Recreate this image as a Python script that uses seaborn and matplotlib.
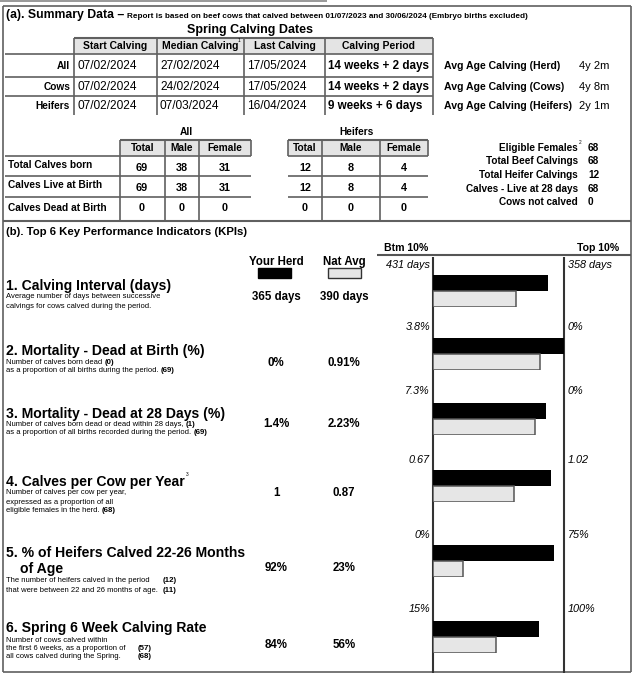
import pandas as pd
import matplotlib.pyplot as plt
import seaborn as sns
from matplotlib.patches import Rectangle


# ---- (a) summary data ----
calving_rows = ['All', 'Cows', 'Heifers']
calving_headers = ['Start Calving', 'Median Calving', 'Last Calving', 'Calving Period']
start_dates = ['07/02/2024', '07/02/2024', '07/02/2024']
median_dates = ['27/02/2024', '24/02/2024', '07/03/2024']
last_dates = ['17/05/2024', '17/05/2024', '16/04/2024']
calving_periods = ['14 weeks + 2 days', '14 weeks + 2 days', '9 weeks + 6 days']
avg_age_labels = ['Avg Age Calving (Herd)', 'Avg Age Calving (Cows)', 'Avg Age Calving (Heifers)']
avg_age_values = ['4y 2m', '4y 8m', '2y 1m']

calf_rows = ['Total Calves born', 'Calves Live at Birth', 'Calves Dead at Birth']
calf_headers = ['Total', 'Male', 'Female']
all_total = [69, 69, 0]
all_male = [38, 38, 0]
all_female = [31, 31, 0]
heif_total = [12, 12, 0]
heif_male = [8, 8, 0]
heif_female = [4, 4, 0]

count_labels = ['Eligible Females', 'Total Beef Calvings', 'Total Heifer Calvings',
                'Calves - Live at 28 days', 'Cows not calved']
count_values = [68, 68, 12, 68, 0]

# ---- (b) KPIs ----
kpi_titles = ['1. Calving Interval (days)', '2. Mortality - Dead at Birth (%)',
              '3. Mortality - Dead at 28 Days (%)', '4. Calves per Cow per Year',
              '5. % of Heifers Calved 22-26 Months', '6. Spring 6 Week Calving Rate']
herd_text = ['365 days', '0%', '1.4%', '1', '92%', '84%']
nat_text = ['390 days', '0.91%', '2.23%', '0.87', '23%', '56%']
btm_labels = ['431 days', '3.8%', '7.3%', '0.67', '0%', '15%']
top_labels = ['358 days', '0%', '0%', '1.02', '75%', '100%']
herd_score = [0.88, 1.0, 0.86, 0.90, 0.92, 0.81]
nat_score = [0.63, 0.82, 0.78, 0.62, 0.23, 0.48]

sns.set_style('white')
plt.rcParams['font.family'] = ['Liberation Sans', 'DejaVu Sans']

W, H = 634, 673
fig = plt.figure(figsize=(W / 100, H / 100), dpi=100)
ax = fig.add_axes([0, 0, 1, 1])
ax.set_xlim(0, W)
ax.set_ylim(H, 0)
ax.axis('off')
renderer = fig.canvas.get_renderer()

LC = '#606060'
HEAD = '#e4e4e4'


def txt(x, y, s, size=7.3, bold=False, ha='left', italic=False):
    return ax.text(x, y, s, fontsize=size, fontweight='bold' if bold else 'normal',
                   fontstyle='italic' if italic else 'normal', ha=ha, va='center', color='black')


def right_edge(t):
    # right end of a text, in the overlay's pixel coordinates
    bb = t.get_window_extent(renderer=renderer)
    return ax.transData.inverted().transform((bb.x1, bb.y0))[0]


def line(x0, y0, x1, y1, lw=1.2, c=LC):
    ax.plot([x0, x1], [y0, y1], color=c, lw=lw, solid_capstyle='butt')


# frame
line(0, 1, 327, 1, lw=1.2, c='#888888')
line(3, 6, 631, 6, lw=1.2)
line(3, 6, 3, 672, lw=1.2)
line(631, 6, 631, 672, lw=1.2)
line(3, 672, 631, 672, lw=1.2)
line(3, 221, 631, 221, lw=1.5)

txt(6, 15, '(a). Summary Data \u2013', size=8.8, bold=True)
txt(127, 16, 'Report is based on beef cows that calved between 01/07/2023 and 30/06/2024 (Embryo births excluded)',
    size=5.85, bold=True)
txt(250, 30, 'Spring Calving Dates', size=9, bold=True, ha='center')

# calving dates table
cols = [74, 157, 244, 325, 433]
ax.add_patch(Rectangle((74, 38), 433 - 74, 16, facecolor=HEAD, edgecolor='none'))
line(74, 38, 433, 38, lw=1.5)
for y in [54, 77, 96]:
    line(5, y, 433, y)
for x in cols:
    line(x, 38, x, 115)
for i, h in enumerate(calving_headers):
    txt((cols[i] + cols[i + 1]) / 2, 46, h, size=7.5, bold=True, ha='center')
txt(238, 41, '1', size=3.5)
row_y = [66, 87, 106]
for i, r in enumerate(calving_rows):
    y = row_y[i]
    txt(70, y, r, size=7.3, bold=True, ha='right')
    txt(77, y, start_dates[i], size=8.6)
    txt(160, y, median_dates[i], size=8.6)
    txt(247, y, last_dates[i], size=8.6)
    txt(328, y, calving_periods[i], size=8.4, bold=True)
    txt(444, y, avg_age_labels[i], size=7.6, bold=True)
    txt(579, y, avg_age_values[i], size=8)

# calves born table
txt(186, 132, 'All', size=7.3, bold=True, ha='center')
txt(356, 132, 'Heifers', size=7.3, bold=True, ha='center')
all_cols = [120, 165, 199, 251]
heif_cols = [288, 322, 380, 428]
for c in [all_cols, heif_cols]:
    ax.add_patch(Rectangle((c[0], 140), c[-1] - c[0], 16, facecolor=HEAD, edgecolor='none'))
    line(c[0], 140, c[-1], 140, lw=1.5)
    for x in c:
        line(x, 140, x, 156)
    for j, h in enumerate(calf_headers):
        txt((c[j] + c[j + 1]) / 2, 148, h, size=7.3, bold=True, ha='center')
for y in [156, 176, 197]:
    line(5, y, 251, y)
    line(288, y, 428, y)
for x in [120, 165, 199, 322, 380]:
    line(x, 156, x, 221)
lab_y = [165, 185, 208]
val_y = [168, 188, 208]
for i, r in enumerate(calf_rows):
    txt(8, lab_y[i], r, size=7.3, bold=True)
    for x, v in zip([142, 182, 225, 305, 351, 404],
                    [all_total, all_male, all_female, heif_total, heif_male, heif_female]):
        txt(x, val_y[i], str(v[i]), size=7.8, bold=True, ha='center')

cnt_y = [148, 161, 175, 189, 202]
for i, (lab, v) in enumerate(zip(count_labels, count_values)):
    txt(578, cnt_y[i], lab, size=7.2, bold=True, ha='right')
    txt(588, cnt_y[i], str(v), size=7.2, bold=True)
txt(579, 143, '2', size=3.5)

# ---- section (b) ----
txt(6, 232, '(b). Top 6 Key Performance Indicators (KPIs)', size=8.2, bold=True)
txt(384, 248, 'Btm 10%', size=7.6, bold=True)
txt(619, 248, 'Top 10%', size=7.6, bold=True, ha='right')
line(377, 255, 631, 255, lw=1.5, c='#555555')
txt(276, 262, 'Your Herd', size=8.3, bold=True, ha='center')
txt(344, 262, 'Nat Avg', size=8.3, bold=True, ha='center')
ax.add_patch(Rectangle((258, 268), 33, 10, facecolor='black', edgecolor='black'))
ax.add_patch(Rectangle((328, 268), 33, 10, facecolor='#e6e6e6', edgecolor='#333333', lw=1))
line(433, 257, 433, 673, lw=1.5, c='#333333')
line(564, 257, 564, 673, lw=1.5, c='#333333')

title_y = [286, 351, 414, 482, 553, 628]
value_y = [297, 363, 424, 493, 568, 645]
scale_y = [265, 327, 391, 460, 535, 609]
bar_top = [275, 338, 403, 470, 545, 621]
desc = [
    [('Average number of days between successive', None), ('calvings for cows calved during the period.', None)],
    [('Number of calves born dead', ('(0)', 0)), ('as a proportion of all births during the period.', ('(69)', 0))],
    [('Number of calves born dead or dead within 28 days,', ('(1)', 0)),
     ('as a proportion of all births recorded during the period.', ('(69)', 0))],
    [('Number of calves per cow per year,', None), ('expressed as a proportion of all', None),
     ('eligible females in the herd.', ('(68)', 0))],
    [('The number of heifers calved in the period', ('(12)', 163)),
     ('that were between 22 and 26 months of age.', ('(11)', 163))],
    [('Number of cows calved within', None), ('the first 6 weeks, as a proportion of', ('(57)', 138)),
     ('all cows calved during the Spring.', ('(68)', 138))],
]
desc_y = [[297, 306], [363, 371], [425, 433], [493, 502, 511], [581, 590], [640, 648, 657]]

for i in range(6):
    txt(6, title_y[i], kpi_titles[i], size=10.1, bold=True)
    for (s, b), y in zip(desc[i], desc_y[i]):
        t = txt(6, y, s, size=5.5)
        if b:
            txt(max(b[1], right_edge(t) + 2), y, b[0], size=5.7, bold=True)
    txt(276, value_y[i], herd_text[i], size=8.3, bold=True, ha='center')
    txt(344, value_y[i], nat_text[i], size=8.3, bold=True, ha='center')
    txt(430, scale_y[i], btm_labels[i], size=7.8, italic=True, ha='right')
    txt(568, scale_y[i], top_labels[i], size=7.8, italic=True)

    df = pd.DataFrame({'series': ['Your Herd', 'Nat Avg'], 'score': [herd_score[i], nat_score[i]]})
    bax = fig.add_axes([433 / W, 1 - (bar_top[i] + 32) / H, 131 / W, 32 / H])
    sns.barplot(data=df, x='score', y='series', hue='series',
                palette={'Your Herd': 'black', 'Nat Avg': '#e6e6e6'},
                width=1.0, legend=False, ax=bax)
    for p in bax.patches:
        if p.get_facecolor()[0] > 0.5:
            p.set_edgecolor('#555555')
            p.set_linewidth(1.1)
        else:
            p.set_edgecolor('none')
    bax.set_xlim(0, 1)
    bax.set_ylim(1.5, -0.5)
    bax.axis('off')

txt(186, 475, '3', size=3.5)
txt(20, 569, 'of Age', size=10.1, bold=True)

fig.savefig('out.png', dpi=100)
